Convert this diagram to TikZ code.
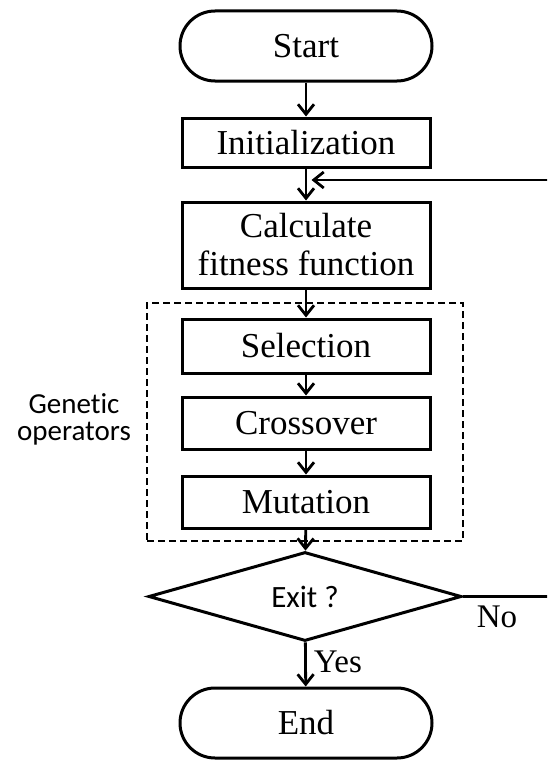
\documentclass[tikz,border=0pt]{standalone}
\usepackage{fontspec}
\setmainfont{Liberation Serif}
\newfontfamily\labelsans[Ligatures=NoCommon]{Carlito}
\usetikzlibrary{shapes.geometric,arrows.meta}
\begin{document}
\begin{tikzpicture}[x=1pt,y=-1pt,
  every node/.style={font=\fontsize{35}{38}\selectfont, inner sep=0pt},
  stepbox/.style={draw, line width=3pt, minimum width=248pt},
  terminal/.style={draw, line width=3pt, rounded corners=35pt,
    minimum width=252pt, minimum height=70pt},
  decision/.style={draw, diamond, line width=3pt, minimum width=313pt,
    minimum height=87pt, font=\labelsans\fontsize{31}{33}\selectfont},
  flowarrow/.style={line width=2.8pt,
    -{Straight Barb[length=10pt,width=16pt,line width=2.8pt]}},
  group/.style={draw, dashed, line width=2.4pt, dash pattern=on 7pt off 4pt},
  yesno/.style={font=\fontsize{33}{35}\selectfont}]
  \useasboundingbox (0,0) rectangle (547,760);
  \clip (0,0) rectangle (547,760);

  % main column of steps
  \node[terminal] (start) at (306,46) {Start};
  \node[stepbox, minimum height=49pt] (init) at (306,142.5) {Initialization};
  \node[stepbox, minimum height=86pt, align=center] (fit) at (306,245)
    {Calculate\\fitness function};
  \node[stepbox, minimum height=54pt] (sel) at (306,346) {Selection};
  \node[stepbox, minimum height=52pt] (cross) at (306,423) {Crossover};
  \node[stepbox, minimum height=52pt] (mut) at (306,502) {Mutation};
  \node[decision] (exit) at (305,596.5) {Exit ?};
  \node[terminal] (end) at (306,723) {End};

  % dashed frame around the genetic operators
  \node[group, minimum width=316pt, minimum height=238pt] (ops) at (305,422) {};
  \node[font=\labelsans\fontsize{29}{27}\selectfont, align=center] (opslabel)
    at (74,419) {Genetic\\operators};

  % connectors
  \draw[flowarrow] (start) -- (init);
  \draw[flowarrow] (init) -- (fit);
  \draw[flowarrow] (fit) -- (sel);
  \draw[flowarrow] (sel) -- (cross);
  \draw[flowarrow] (cross) -- (mut);
  \draw[flowarrow] (mut) -- (exit);
  \draw[flowarrow] (exit) -- node[yesno, anchor=west, xshift=7pt, yshift=3pt] (yes) {Yes} (end);

  % loop back from "No" to the fitness evaluation
  \coordinate (loopx) at (560,0);
  \coordinate (join) at (311.5,180);
  \draw[flowarrow] (exit.east) -- (loopx |- exit.east) -- (loopx |- join) -- (join);
  \node[yesno] (no) at (497,617) {No};
\end{tikzpicture}
\end{document}
